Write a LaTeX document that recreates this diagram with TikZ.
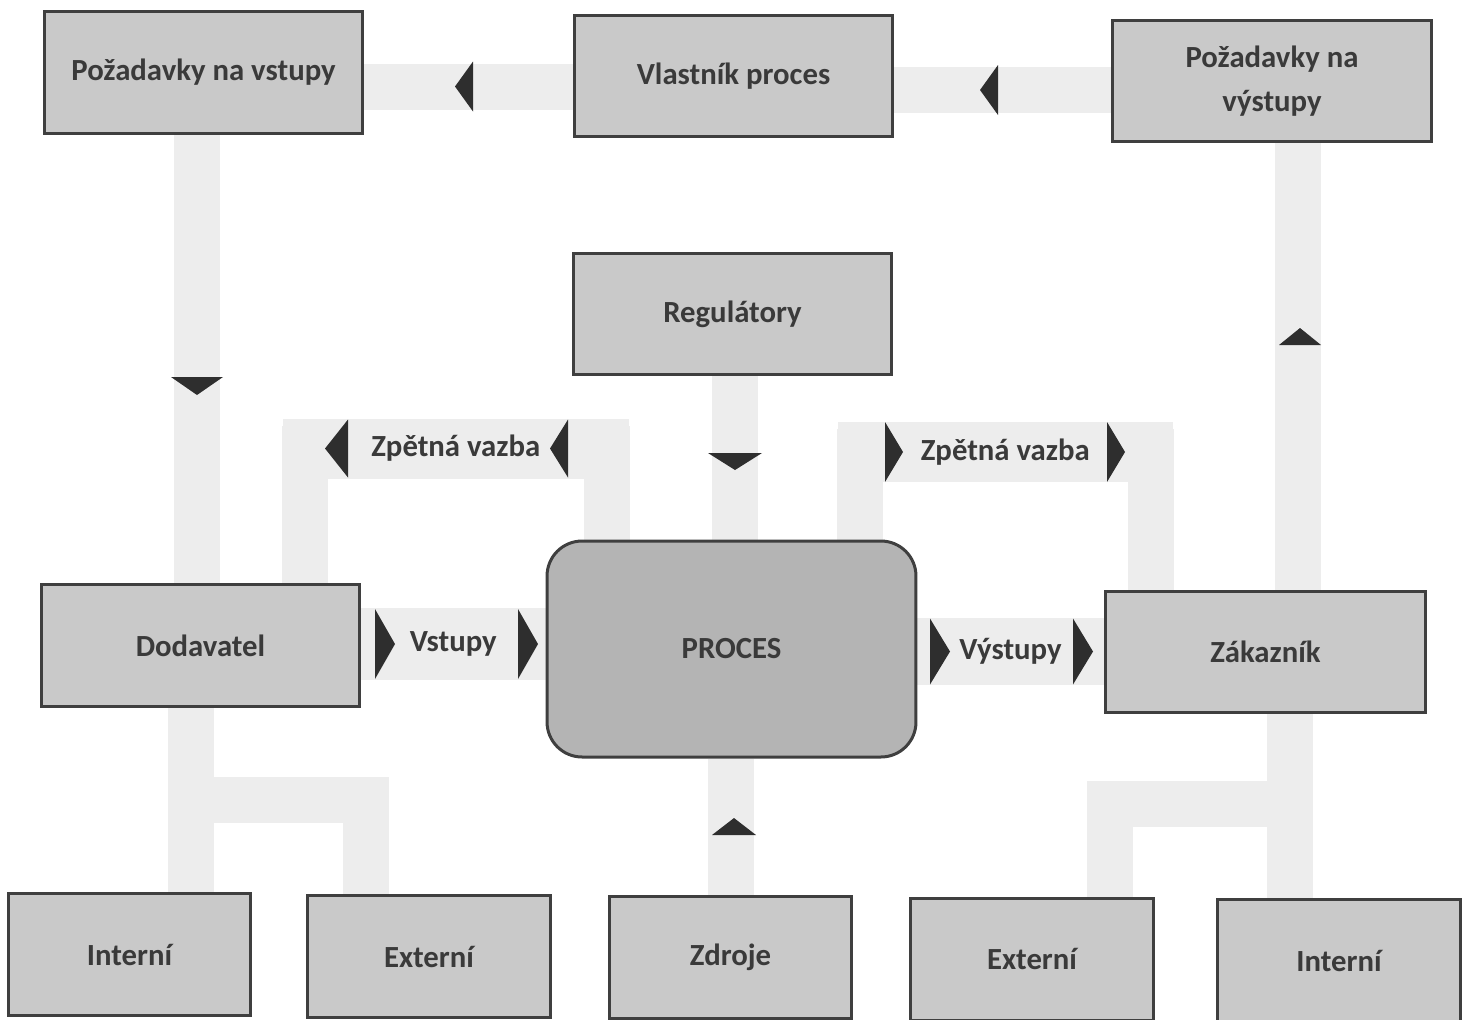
\documentclass[tikz,border=0pt]{standalone}
\usepackage{fontspec}
\setmainfont{Carlito}
\usetikzlibrary{backgrounds}
\definecolor{pasbarva}{HTML}{EDEDED}
\definecolor{ram}{HTML}{3F3F3F}
\definecolor{vypln}{HTML}{C9C9C9}
\definecolor{jadrob}{HTML}{B4B4B4}
\definecolor{hrot}{HTML}{2E2E2E}
\definecolor{pismo}{HTML}{3A3A3A}
\tikzset{
  blok/.style={draw=ram,line width=0.06cm,fill=vypln,minimum width=6.36cm,
    minimum height=2.43cm,align=center,inner sep=2pt},
  maly/.style={blok,minimum width=4.86cm,minimum height=2.44cm},
  jadro/.style={blok,fill=jadrob,rounded corners=0.7cm,minimum width=7.38cm,
    minimum height=4.32cm},
  pas/.style={draw=pasbarva,line width=0.92cm},
  stitek/.style={fill=pasbarva,inner sep=0pt,minimum height=1.2cm},
}
\begin{document}
\begin{tikzpicture}[x=0.02cm,y=-0.02cm,
    font=\fontsize{17.5}{25}\selectfont\bfseries,text=pismo]
  \useasboundingbox (0,0) rectangle (1469,1019);
  % horni rada
  \node[blok] (pvst) at (203.5,72.5) {Požadavky na vstupy};
  \node[blok] (vlast) at (733.5,76) {Vlastník proces};
  \node[blok,minimum width=6.4cm] (pvys) at (1272,81) {Požadavky na\\výstupy};
  \node[blok,minimum width=6.38cm] (reg) at (732.5,314) {Regulátory};
  % stred
  \node[jadro] (proc) at (731.5,649) {PROCES};
  \node[blok] (dod) at (200.5,645.5) {Dodavatel};
  \node[blok,minimum width=6.42cm] (zak) at (1265.5,652) {Zákazník};
  % spodni rada
  \node[maly] (int1) at (129.5,954.5) {Interní};
  \node[maly] (ext1) at (429,956.5) {Externí};
  \node[maly] (zdr) at (730.5,957.5) {Zdroje};
  \node[maly] (ext2) at (1032,959) {Externí};
  \node[maly] (int2) at (1339,960.5) {Interní};
  \coordinate (odb1) at (191,799.5);
  \coordinate (odb2) at (1289.5,803.5);

  \begin{scope}[on background layer]
    \draw[pas] (vlast.west |- 0,86.5) -- (pvst.east |- 0,86.5);
    \draw[pas] (pvys.west |- 0,90) -- (vlast.east |- 0,90);
    \draw[pas] (pvst.south -| 197,0) -- (dod.north -| 197,0);
    \draw[pas] (zak.north -| 1298,0) -- (pvys.south -| 1298,0);
    \draw[pas] (reg.south -| 735,0) -- (proc.north -| 735,0);
    \draw[pas] (zdr.north -| 731,0) -- (proc.south -| 731,0);
    % zpetna vazba
    \draw[pas] (proc.north -| 606.5,0) -- (606.5,448.5)
      -- node[stitek,minimum width=6.92cm] {Zpětná vazba} (305,448.5)
      -- (dod.north -| 305,0);
    \draw[pas] (proc.north -| 860,0) -- (860,452)
      -- node[stitek,minimum width=6.7cm] {Zpětná vazba} (1150.5,452)
      -- (zak.north -| 1150.5,0);
    % vstupy a vystupy
    \draw[pas,line width=1.44cm] (dod.east |- 0,644)
      -- node {Vstupy} (proc.west |- 0,644);
    \draw[pas,line width=1.34cm] (proc.east |- 0,651.5)
      -- node {Výstupy} (zak.west |- 0,651.5);
    % dodavatele a zakaznici
    \draw[pas] (int1.north -| 191,0) -- (dod.south -| 191,0);
    \draw[pas] (ext1.north -| 366,0) |- (odb1);
    \draw[pas] (int2.north -| 1289.5,0) -- (zak.south -| 1289.5,0);
    \draw[pas] (ext2.north -| 1110,0) |- (odb2);
  \end{scope}

  % hroty
  \foreach \x/\y/\d/\h in {455/86.5/18/25, 980/90/18/25, 325/448.5/23/29, 550/448.5/18/29}
    \fill[hrot] (\x,\y) -- ++(\d,-\h) -- ++(0,2*\h) -- cycle;
  \foreach \x/\y/\d/\h in {395/644/20/35, 538/644/20/35, 950/651.5/20/33,
      1093/651.5/20/33, 903/452/18/30, 1125/452/18/30}
    \fill[hrot] (\x,\y) -- ++(-\d,-\h) -- ++(0,2*\h) -- cycle;
  \foreach \x/\y/\d/\h in {197/395/18/26, 735/470/17/27}
    \fill[hrot] (\x,\y) -- ++(-\h,-\d) -- ++(2*\h,0) -- cycle;
  \foreach \x/\y/\d/\h in {1300/328/17/21, 734/818/17/22}
    \fill[hrot] (\x,\y) -- ++(-\h,\d) -- ++(2*\h,0) -- cycle;
\end{tikzpicture}
\end{document}
